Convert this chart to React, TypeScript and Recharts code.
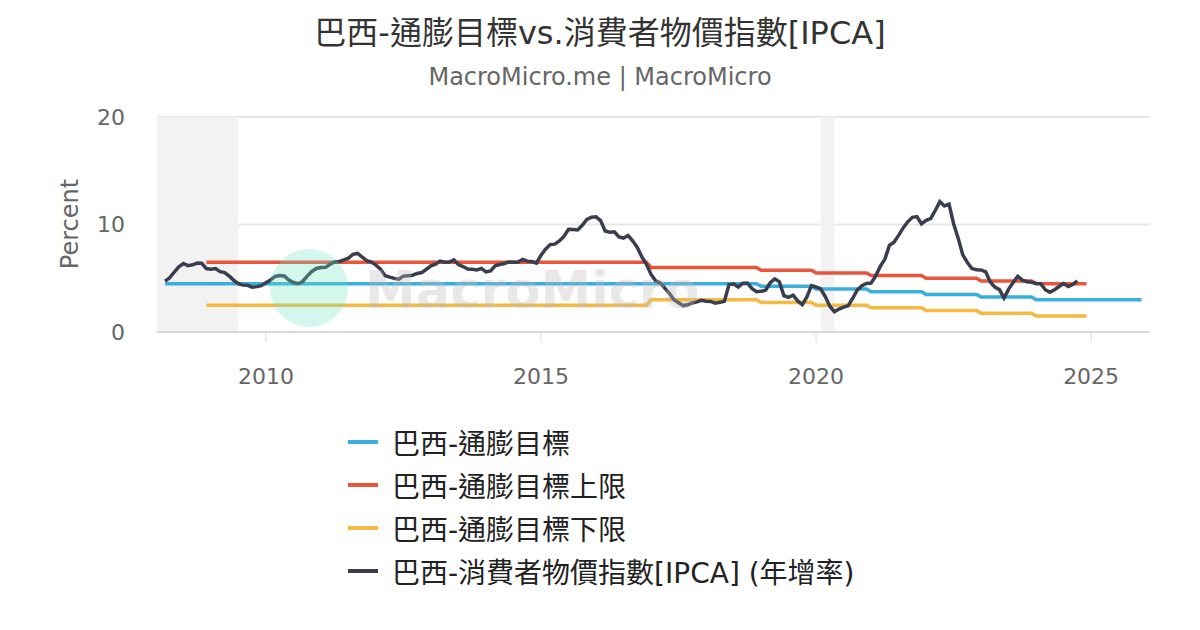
import React from "react"
import {
  CartesianGrid,
  Legend,
  Line,
  LineChart,
  ReferenceArea,
  XAxis,
  YAxis,
} from "recharts"

// 年ごとのインフレ目標 (%) と許容幅
const targetYears = [2008, 2009, 2010, 2011, 2012, 2013, 2014, 2015, 2016, 2017, 2018, 2019, 2020, 2021, 2022, 2023, 2024, 2025]
const targetValues = [4.5, 4.5, 4.5, 4.5, 4.5, 4.5, 4.5, 4.5, 4.5, 4.5, 4.5, 4.25, 4.0, 3.75, 3.5, 3.25, 3.0, 3.0]
const toleranceValues = [2, 2, 2, 2, 2, 2, 2, 2, 2, 1.5, 1.5, 1.5, 1.5, 1.5, 1.5, 1.5, 1.5, 1.5]

// IPCA 年增率 (%), 2008-03 から月次
const ipcaValues = [
  4.73, 5.04, 5.58, 6.06, 6.37, 6.17, 6.25, 6.41, 6.39, 5.9, // 2008
  5.84, 5.9, 5.61, 5.53, 5.2, 4.8, 4.5, 4.36, 4.34, 4.17, 4.22, 4.31, // 2009
  4.59, 4.83, 5.17, 5.26, 5.22, 4.84, 4.6, 4.49, 4.7, 5.2, 5.63, 5.91, // 2010
  5.99, 6.01, 6.3, 6.51, 6.55, 6.71, 6.87, 7.23, 7.31, 6.97, 6.64, 6.5, // 2011
  6.22, 5.85, 5.24, 5.1, 4.99, 4.92, 5.2, 5.24, 5.28, 5.45, 5.53, 5.84, // 2012
  6.15, 6.31, 6.59, 6.49, 6.5, 6.7, 6.27, 6.09, 5.86, 5.84, 5.77, 5.91, // 2013
  5.59, 5.68, 6.15, 6.28, 6.37, 6.52, 6.5, 6.51, 6.75, 6.59, 6.56, 6.41, // 2014
  7.14, 7.7, 8.13, 8.17, 8.47, 8.89, 9.56, 9.53, 9.49, 9.93, 10.48, 10.67, // 2015
  10.71, 10.36, 9.39, 9.28, 9.32, 8.84, 8.74, 8.97, 8.48, 7.87, 6.99, 6.29, // 2016
  5.35, 4.76, 4.57, 4.08, 3.6, 3.0, 2.71, 2.46, 2.54, 2.7, 2.8, 2.95, // 2017
  2.86, 2.84, 2.68, 2.76, 2.86, 4.39, 4.48, 4.19, 4.53, 4.56, 4.05, 3.75, // 2018
  3.78, 3.89, 4.58, 4.94, 4.66, 3.37, 3.22, 3.43, 2.89, 2.54, 3.27, 4.31, // 2019
  4.19, 4.01, 3.3, 2.4, 1.88, 2.13, 2.31, 2.44, 3.14, 3.92, 4.31, 4.52, // 2020
  4.56, 5.2, 6.1, 6.76, 8.06, 8.35, 8.99, 9.68, 10.25, 10.67, 10.74, 10.06, // 2021
  10.38, 10.54, 11.3, 12.13, 11.73, 11.89, 10.07, 8.73, 7.17, 6.47, 5.9, 5.79, // 2022
  5.77, 5.6, 4.65, 4.18, 3.94, 3.16, 3.99, 4.61, 5.19, 4.82, 4.68, 4.62, // 2023
  4.51, 4.5, 3.93, 3.69, 3.93, 4.23, 4.5, 4.24, 4.42, 4.76, // 2024
]

// 上限・下限が出ている期間 (年*12+月)
const bandStart = 2008 * 12 + 12
const bandEnd = 2024 * 12 + 12

// 景気後退期 (シャドー)
const recessionStart = [2007.917, 2020.083]
const recessionEnd = [2009.5, 2020.333]

const xTicks = [2010, 2015, 2020, 2025]
const yTicks = [0, 10, 20]

const seriesOrder = ["target", "upper", "lower", "ipca"]

const COLORS = {
  target: "#3aaedc",
  upper: "#e8563c",
  lower: "#f5b941",
  ipca: "#3a3d4e",
}

const FONT = "'DejaVu Sans', 'Noto Sans CJK TC', sans-serif"

type Row = {
  t: number
  target: number | null
  upper: number | null
  lower: number | null
  ipca: number | null
}

function buildRows(): Row[] {
  const rows: Row[] = []
  for (let y = 2008; y <= 2025; y++) {
    for (let m = 1; m <= 12; m++) {
      if (y === 2008 && m < 3) continue
      const idx = (y - 2008) * 12 + (m - 3)
      const k = targetYears.indexOf(y)
      const key = y * 12 + m
      const inBand = key >= bandStart && key <= bandEnd
      rows.push({
        t: y + (m - 1) / 12,
        target: targetValues[k],
        upper: inBand ? targetValues[k] + toleranceValues[k] : null,
        lower: inBand ? targetValues[k] - toleranceValues[k] : null,
        ipca: ipcaValues[idx] ?? null,
      })
    }
  }
  return rows
}

const rows = buildRows()

function LegendContent(props: any) {
  // Legend が名前順に並べ替えるので、系列の順に戻す
  const payload = [...(props.payload ?? [])].sort(
    (a: any, b: any) => seriesOrder.indexOf(a.dataKey) - seriesOrder.indexOf(b.dataKey)
  )
  return (
    <div style={{ fontFamily: FONT }}>
      {payload.map((p: any) => (
        <div key={p.value} style={{ display: "flex", alignItems: "center", height: 43 }}>
          <div style={{ width: 30, height: 4, background: p.color, marginRight: 14 }} />
          <span style={{ fontSize: 28, color: "#222", whiteSpace: "nowrap" }}>{p.value}</span>
        </div>
      ))}
    </div>
  )
}

export default function App() {
  return (
    <div style={{ position: "absolute", left: 0, top: 0, width: 1200, height: 630, background: "#fff", overflow: "hidden" }}>
      <div style={{ position: "absolute", top: 7, width: 1200, textAlign: "center", fontFamily: FONT, fontSize: 32, color: "#333" }}>
        巴西-通膨目標vs.消費者物價指數[IPCA]
      </div>
      <div style={{ position: "absolute", top: 63, width: 1200, textAlign: "center", fontFamily: FONT, fontSize: 24, color: "#666" }}>
        MacroMicro.me | MacroMicro
      </div>

      <div style={{ position: "absolute", left: 0, top: 0 }}>
        <LineChart
          width={1200}
          height={630}
          data={rows}
          margin={{ top: 117, right: 50, bottom: 268, left: 97 }}
        >
          <CartesianGrid vertical={false} stroke="#e6e6e6" strokeWidth={2} />
          {recessionStart.map((s, i) => (
            <ReferenceArea
              key={s}
              x1={s}
              x2={recessionEnd[i]}
              ifOverflow="hidden"
              fill="#f2f2f2"
              fillOpacity={1}
              stroke="none"
            />
          ))}
          <XAxis
            dataKey="t"
            type="number"
            domain={[2008.02, 2026.07]}
            ticks={xTicks}
            allowDataOverflow
            height={30}
            tickSize={10}
            tickMargin={26}
            axisLine={{ stroke: "#d8d8d8", strokeWidth: 2 }}
            tickLine={{ stroke: "#d8d8d8", strokeWidth: 1 }}
            tick={{ fill: "#666", fontSize: 22, fontFamily: FONT }}
          />
          <YAxis
            domain={[0, 20]}
            ticks={yTicks}
            width={60}
            tickSize={0}
            tickMargin={32}
            axisLine={false}
            tickLine={false}
            tick={{ fill: "#666", fontSize: 22, fontFamily: FONT }}
          />
          <Line name="巴西-通膨目標" dataKey="target" stroke={COLORS.target} strokeWidth={3.5} dot={false} isAnimationActive={false} />
          <Line name="巴西-通膨目標上限" dataKey="upper" stroke={COLORS.upper} strokeWidth={3.5} dot={false} isAnimationActive={false} />
          <Line name="巴西-通膨目標下限" dataKey="lower" stroke={COLORS.lower} strokeWidth={3.5} dot={false} isAnimationActive={false} />
          <Line name="巴西-消費者物價指數[IPCA] (年增率)" dataKey="ipca" stroke={COLORS.ipca} strokeWidth={3.5} dot={false} isAnimationActive={false} />
          <Legend
            layout="vertical"
            align="center"
            verticalAlign="middle"
            content={<LegendContent />}
            wrapperStyle={{ left: 348, top: 420, width: 600 }}
          />
        </LineChart>
      </div>

      <div
        style={{
          position: "absolute",
          left: 70,
          top: 224,
          transform: "translate(-50%, -50%) rotate(-90deg)",
          fontFamily: FONT,
          fontSize: 24,
          color: "#666",
          whiteSpace: "nowrap",
        }}
      >
        Percent
      </div>

      {/* watermark */}
      <div style={{ position: "absolute", left: 270, top: 249, width: 78, height: 78, borderRadius: "50%", background: "rgba(110, 225, 195, 0.3)", pointerEvents: "none" }} />
      <div
        style={{
          position: "absolute",
          left: 365,
          top: 261,
          fontFamily: FONT,
          fontWeight: "bold",
          fontSize: 51,
          color: "rgba(190, 190, 190, 0.35)",
          pointerEvents: "none",
        }}
      >
        MacroMicro
      </div>
    </div>
  )
}
